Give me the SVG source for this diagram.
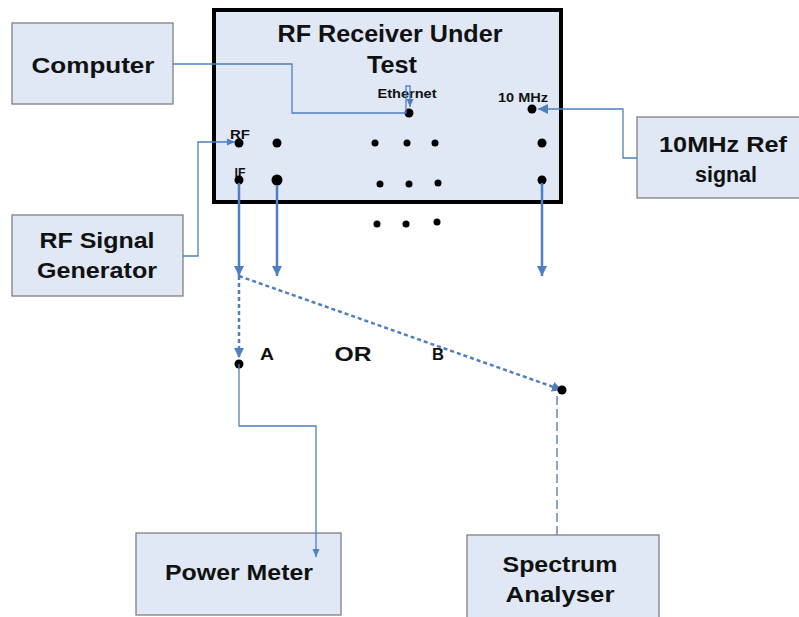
<svg xmlns="http://www.w3.org/2000/svg" width="799" height="617" viewBox="0 0 799 617">
<defs>
<style>
.box{fill:#dfe8f4;stroke:#808080;stroke-width:1.3}
.main{fill:#dfe8f4;stroke:#000;stroke-width:4}
.t{font-family:"Liberation Sans",Arial,sans-serif;font-weight:bold;fill:#111;text-anchor:middle}
.thin{fill:none;stroke:#4f7fc0;stroke-width:1.3}
.thick{fill:none;stroke:#4f7fc0;stroke-width:2.5}
.dash{fill:none;stroke:#4f7fc0;stroke-width:2.5;stroke-dasharray:4 3}
.ldash{fill:none;stroke:#6b86b0;stroke-width:1.5;stroke-dasharray:9 4}
.dot{fill:#000}
</style>
<marker id="big" markerUnits="userSpaceOnUse" markerWidth="12" markerHeight="12" refX="10" refY="5" orient="auto" viewBox="0 0 12 10">
<path d="M0,0 L10,5 L0,10 Z" fill="#4f7fc0"/>
</marker>
<marker id="small" markerUnits="userSpaceOnUse" markerWidth="9" markerHeight="8" refX="8" refY="3.5" orient="auto" viewBox="0 0 9 7">
<path d="M0,0 L8,3.5 L0,7 Z" fill="#4f7fc0"/>
</marker>
</defs>

<g id="receiver">
<rect class="main" x="214" y="10" width="347" height="192"/>
<text class="t" x="390" y="42" font-size="23" textLength="225" lengthAdjust="spacingAndGlyphs">RF Receiver Under</text>
<text class="t" x="392" y="73" font-size="23" textLength="50" lengthAdjust="spacingAndGlyphs">Test</text>
<text class="t" x="407" y="98" font-size="12.5" textLength="59" lengthAdjust="spacingAndGlyphs">Ethernet</text>
<text class="t" x="523" y="102" font-size="12.5" textLength="50" lengthAdjust="spacingAndGlyphs">10 MHz</text>
<text class="t" x="240" y="139" font-size="12.5" textLength="20" lengthAdjust="spacingAndGlyphs">RF</text>
<text class="t" x="240" y="177" font-size="12.5" textLength="11" lengthAdjust="spacingAndGlyphs">IF</text>
<circle class="dot" cx="409" cy="113" r="4.5"/>
<circle class="dot" cx="532" cy="109" r="4.5"/>
<circle class="dot" cx="239" cy="143" r="4.5"/>
<circle class="dot" cx="277" cy="143" r="4.5"/>
<circle class="dot" cx="375" cy="143" r="3.5"/>
<circle class="dot" cx="407" cy="143" r="3.5"/>
<circle class="dot" cx="435" cy="143" r="3.5"/>
<circle class="dot" cx="542" cy="143" r="4.5"/>
<circle class="dot" cx="239" cy="180" r="4.5"/>
<circle class="dot" cx="277" cy="180" r="5.5"/>
<circle class="dot" cx="380" cy="184" r="3.5"/>
<circle class="dot" cx="409" cy="184" r="3.5"/>
<circle class="dot" cx="438" cy="183" r="3.5"/>
<circle class="dot" cx="542" cy="180" r="4.5"/>
</g>

<g id="extra-dots">
<circle class="dot" cx="377" cy="224" r="3.5"/>
<circle class="dot" cx="406" cy="224" r="3.5"/>
<circle class="dot" cx="437" cy="222" r="3.5"/>
</g>

<g id="computer">
<rect class="box" x="12" y="23" width="161" height="81"/>
<text class="t" x="93" y="73" font-size="22" textLength="123" lengthAdjust="spacingAndGlyphs">Computer</text>
</g>

<g id="rf-generator">
<rect class="box" x="12" y="215" width="171" height="81"/>
<text class="t" x="97" y="248" font-size="22" textLength="115" lengthAdjust="spacingAndGlyphs">RF Signal</text>
<text class="t" x="97" y="278" font-size="22" textLength="120" lengthAdjust="spacingAndGlyphs">Generator</text>
</g>

<g id="ref-signal">
<rect class="box" x="637" y="117" width="170" height="81"/>
<text class="t" x="723" y="152" font-size="22" textLength="128" lengthAdjust="spacingAndGlyphs">10MHz Ref</text>
<text class="t" x="726" y="182" font-size="22" textLength="62" lengthAdjust="spacingAndGlyphs">signal</text>
</g>

<g id="power-meter">
<rect class="box" x="136" y="533" width="205" height="82"/>
<text class="t" x="239" y="580" font-size="22" textLength="148" lengthAdjust="spacingAndGlyphs">Power Meter</text>
</g>

<g id="spectrum-analyser">
<rect class="box" x="467" y="535" width="192" height="90"/>
<text class="t" x="560" y="572" font-size="22" textLength="115" lengthAdjust="spacingAndGlyphs">Spectrum</text>
<text class="t" x="560" y="602" font-size="22" textLength="109" lengthAdjust="spacingAndGlyphs">Analyser</text>
</g>

<g id="labels">
<text class="t" x="267" y="360" font-size="16" textLength="14" lengthAdjust="spacingAndGlyphs">A</text>
<text class="t" x="353" y="361" font-size="21" textLength="37" lengthAdjust="spacingAndGlyphs">OR</text>
<text class="t" x="438" y="360" font-size="16" textLength="12" lengthAdjust="spacingAndGlyphs">B</text>
</g>

<g id="connectors">
<path class="thin" d="M173,64 H292 V113 H406 V86 H410 V107" marker-end="url(#small)"/>
<path class="thin" d="M183,256 H198 V142 H235" marker-end="url(#small)"/>
<path class="thin" d="M637,158 H623 V109 H538" marker-end="url(#big)"/>
<path class="thick" d="M239,183 V276" marker-end="url(#big)"/>
<path class="thick" d="M277,185 V276" marker-end="url(#big)"/>
<path class="thick" d="M542,183 V276" marker-end="url(#big)"/>
<path class="dash" d="M239,276 V358" marker-end="url(#big)"/>
<path class="dash" d="M239,276 L562,390" marker-end="url(#big)"/>
<circle class="dot" cx="239" cy="364" r="4.5"/>
<circle class="dot" cx="562" cy="390" r="4.5"/>
<path class="thin" d="M239,364 V426 H316 V557" marker-end="url(#small)"/>
<path class="ldash" d="M557,535 V394"/>
</g>
</svg>
